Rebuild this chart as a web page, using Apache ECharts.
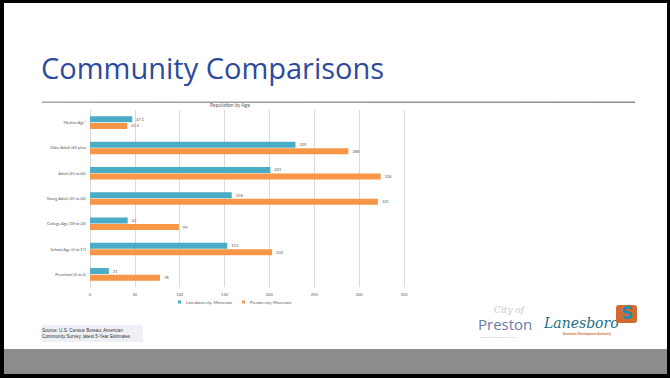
<!DOCTYPE html>
<html><head><meta charset="utf-8">
<script src="https://cdn.jsdelivr.net/npm/echarts@6/dist/echarts.min.js"></script>
<style>html,body{margin:0;padding:0;background:#000;}#c{width:670px;height:378px;}</style>
</head><body><div id="c"></div>
<script>
const categories = ['Median Age*', 'Older Adult (65 plus)', 'Adult (45 to 64)', 'Young Adult (25 to 44)', 'College Age (18 to 24)', 'School Age (5 to 17)', 'Preschool (0 to 4)'];
const lanesboro = [47.1, 229, 201, 158, 42, 153, 21];
const preston = [41.5, 288, 324, 321, 99, 203, 78];
const seriesNames = ['Lanesboro city, Minnesota', 'Preston city, Minnesota'];
const xTicks = [0, 50, 100, 150, 200, 250, 300, 350];

const chart = echarts.init(document.getElementById('c'), null, {renderer: 'svg'});
const lbl = {show: true, position: 'right', fontSize: 4, color: '#595959', distance: 4, fontFamily: 'Lato'};
chart.setOption({
  backgroundColor: '#000',
  animation: false,
  title: {text: 'Population by Age', left: 205, top: 97, textStyle: {fontSize: 5, color: '#595959', fontWeight: 'normal', fontFamily: 'Lato'}},
  legend: {data: seriesNames, top: 300, left: 178, itemWidth: 3, itemHeight: 3, itemGap: 10, icon: 'rect',
    textStyle: {fontSize: 4, color: '#595959', fontFamily: 'Lato'}, padding: 0},
  grid: {left: 90, top: 110, width: 314, height: 177},
  xAxis: {type: 'value', min: xTicks[0], max: xTicks[xTicks.length - 1], interval: 50,
    axisLabel: {fontSize: 4, color: '#595959', margin: 5, fontFamily: 'Lato'},
    axisLine: {show: false}, axisTick: {show: false},
    splitLine: {lineStyle: {color: '#D9D9D9', width: 1}}},
  yAxis: {type: 'category', data: categories, inverse: true,
    axisLabel: {fontSize: 4, color: '#595959', margin: 4, fontFamily: 'Lato'},
    axisLine: {show: false}, axisTick: {show: false}},
  series: [
    {name: seriesNames[0], type: 'bar', data: lanesboro, barWidth: 6, barGap: '10%', itemStyle: {color: '#4BACC6'}, label: lbl},
    {name: seriesNames[1], type: 'bar', data: preston, barWidth: 6, itemStyle: {color: '#F79646'}, label: lbl}
  ],
  graphic: [
    {type: 'rect', z: -10, shape: {x: 4, y: 3, width: 663, height: 346}, style: {fill: '#FFFFFF'}},
    {type: 'rect', z: -10, shape: {x: 4, y: 349, width: 663, height: 25}, style: {fill: '#8C8C8C'}},
    {type: 'text', left: 41, top: 53, style: {text: 'Community Comparisons', fontSize: 29, fill: '#2E4A9E', fontFamily: 'Open Sans'}},
    {type: 'rect', shape: {x: 42, y: 101.5, width: 593, height: 1.5}, style: {fill: {type: 'linear', x: 0, y: 0, x2: 1, y2: 0, colorStops: [{offset: 0, color: '#A6A6A6'}, {offset: 1, color: '#8C8C8C'}]}}},
    {type: 'rect', shape: {x: 41, y: 325, width: 102, height: 17}, style: {fill: '#EEF0F6'}},
    {type: 'text', left: 42, top: 327, style: {text: 'Source: U.S. Census Bureau, American\nCommunity Survey, latest 5-Year Estimates', fontSize: 4.6, lineHeight: 6, fill: '#333333', fontFamily: 'Liberation Sans Narrow, Liberation Sans'}},
    {type: 'text', left: 494, top: 305, style: {text: 'City of', fontSize: 9, fill: '#C8C8CC', fontStyle: 'italic', fontFamily: 'DejaVu Serif'}},
    {type: 'text', left: 478, top: 316, style: {text: 'Preston', fontSize: 15, fill: '#6C7BA8', fontFamily: 'Open Sans'}},
    {type: 'text', left: 480, top: 336, style: {text: 'Economic Development Authority', fontSize: 2.5, fill: '#C0C0C8', fontFamily: 'Lato'}},
    {type: 'text', left: 544, top: 316, style: {text: 'Lanesboro', fontSize: 14, fill: '#1E6E86', fontStyle: 'italic', fontFamily: 'DejaVu Serif'}},
    {type: 'text', left: 563, top: 332, style: {text: 'Economic Development Authority', fontSize: 3.2, fill: '#D2692E', fontWeight: 'bold', fontFamily: 'Lato'}},
    {type: 'rect', shape: {x: 616, y: 305, width: 21, height: 18, r: 3}, style: {fill: '#D2692E'}},
    {type: 'text', left: 621, top: 304, style: {text: 'S', fontSize: 17, fontWeight: 'bold', fill: '#1E8FA6', fontFamily: 'DejaVu Sans'}}
  ]
});
</script></body></html>
